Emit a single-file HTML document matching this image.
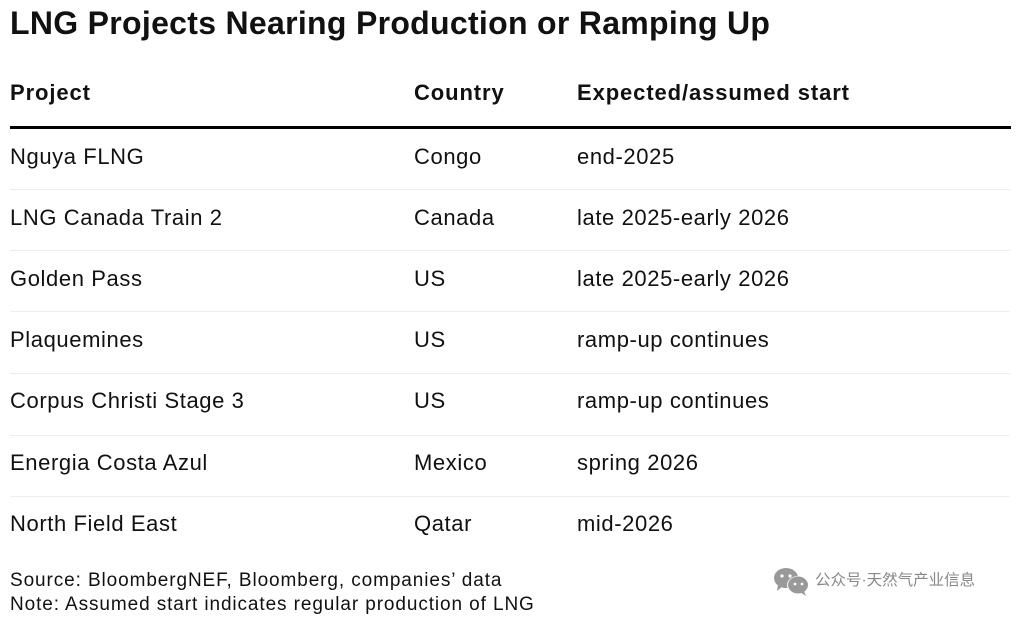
<!DOCTYPE html>
<html><head><meta charset="utf-8"><style>
body{margin:0;width:1024px;height:617px;background:#fff;position:relative;overflow:hidden;font-family:"Liberation Sans",Arial,sans-serif;color:#111}
.a{position:absolute;white-space:nowrap;line-height:1}
.t{font-size:32px;font-weight:bold;left:10px;top:7px;letter-spacing:0.3px}
.h{font-size:22px;font-weight:bold;top:82px;letter-spacing:0.9px}
.r{font-size:22px;letter-spacing:0.6px}
.f{font-size:19px;left:10px;letter-spacing:0.9px}
.ln{position:absolute;left:10px;width:1000px;height:1px;background:#eeeeee}
</style></head><body>
<div class="a t">LNG Projects Nearing Production or Ramping Up</div>
<div class="a h" style="left:10px">Project</div>
<div class="a h" style="left:414px">Country</div>
<div class="a h" style="left:577px">Expected/assumed start</div>
<div style="position:absolute;left:10px;top:126px;width:1001px;height:3px;background:#000"></div>
<div class="ln" style="top:189px"></div><div class="ln" style="top:250px"></div><div class="ln" style="top:311px"></div><div class="ln" style="top:373px"></div><div class="ln" style="top:435px"></div><div class="ln" style="top:496px"></div>
<div class="a r" style="left:10px;top:146px">Nguya FLNG</div><div class="a r" style="left:414px;top:146px">Congo</div><div class="a r" style="left:577px;top:146px">end-2025</div>
<div class="a r" style="left:10px;top:207px">LNG Canada Train 2</div><div class="a r" style="left:414px;top:207px">Canada</div><div class="a r" style="left:577px;top:207px">late 2025-early 2026</div>
<div class="a r" style="left:10px;top:268px">Golden Pass</div><div class="a r" style="left:414px;top:268px">US</div><div class="a r" style="left:577px;top:268px">late 2025-early 2026</div>
<div class="a r" style="left:10px;top:329px">Plaquemines</div><div class="a r" style="left:414px;top:329px">US</div><div class="a r" style="left:577px;top:329px">ramp-up continues</div>
<div class="a r" style="left:10px;top:390px">Corpus Christi Stage 3</div><div class="a r" style="left:414px;top:390px">US</div><div class="a r" style="left:577px;top:390px">ramp-up continues</div>
<div class="a r" style="left:10px;top:452px">Energia Costa Azul</div><div class="a r" style="left:414px;top:452px">Mexico</div><div class="a r" style="left:577px;top:452px">spring 2026</div>
<div class="a r" style="left:10px;top:513px">North Field East</div><div class="a r" style="left:414px;top:513px">Qatar</div><div class="a r" style="left:577px;top:513px">mid-2026</div>
<div class="a f" style="top:571px">Source: BloombergNEF, Bloomberg, companies’ data</div>
<div class="a f" style="top:595px">Note: Assumed start indicates regular production of LNG</div>
<svg style="position:absolute;left:772px;top:566px" width="40" height="32" viewBox="0 0 40 32">
<ellipse cx="14" cy="12" rx="12" ry="10" fill="#999"/><path d="M6 19 L5 25 L11 20Z" fill="#999"/>
<ellipse cx="26" cy="19" rx="11" ry="9" fill="#fff"/><ellipse cx="26" cy="19" rx="10" ry="8.5" fill="#999"/><path d="M32 25 L34 30 L28 26Z" fill="#999"/>
<circle cx="10" cy="10" r="1.6" fill="#fff"/><circle cx="18" cy="10" r="1.6" fill="#fff"/><circle cx="23" cy="18" r="1.4" fill="#fff"/><circle cx="30" cy="18" r="1.4" fill="#fff"/></svg>
<div class="a" style="left:815px;top:573px;font-size:15.5px;color:#888;font-family:'Liberation Sans','Noto Sans CJK SC',sans-serif">公众号·天然气产业信息</div>
</body></html>
